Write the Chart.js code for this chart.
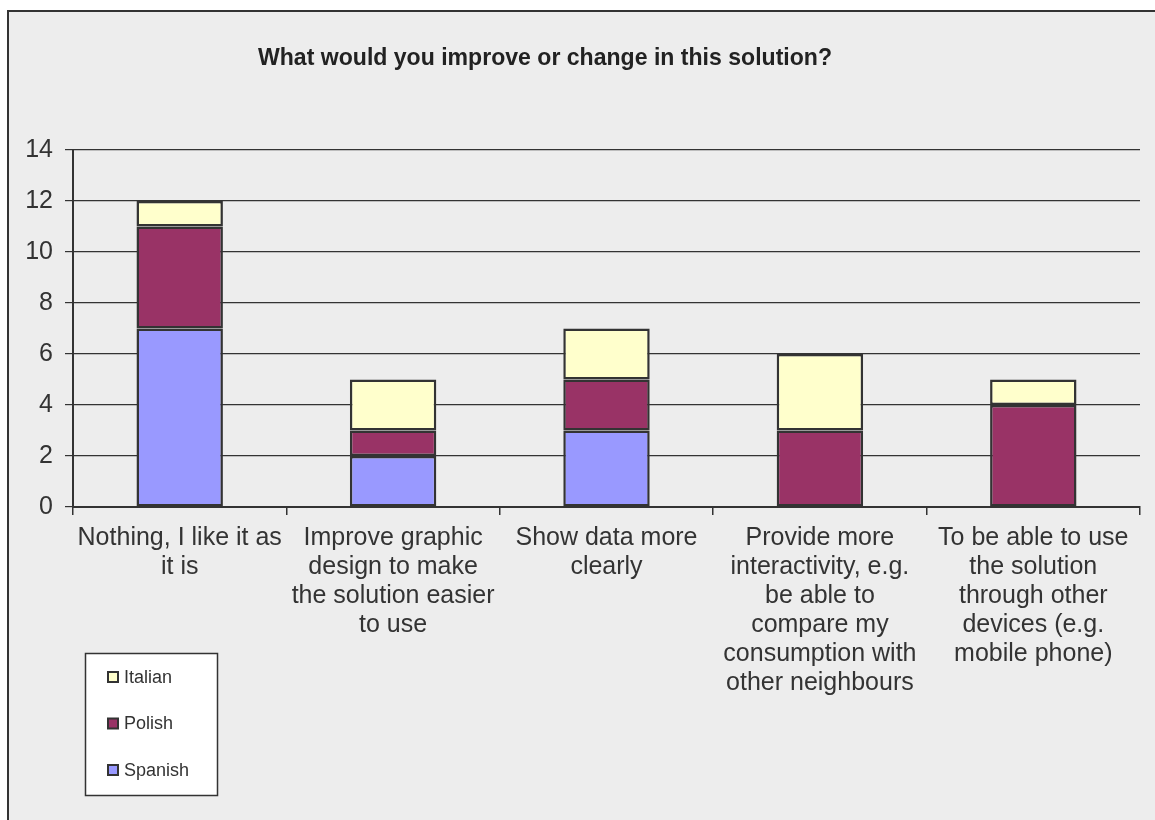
<!DOCTYPE html>
<html lang="en">
<head>
  <meta charset="UTF-8" />
  <title>Improvement survey</title>
  <script src="https://cdn.jsdelivr.net/npm/chart.js"></script>
  <style>
    *{margin:0;padding:0;box-sizing:border-box}
    body,html{width:1155px;height:820px;background:#fff;overflow:hidden}
    #wrap{width:1155px;height:820px;position:relative}
  </style>
</head>
<body>
  <div id="wrap"><canvas id="chart" width="1155" height="820"></canvas></div>
  <script>
    // answers per country
    const categories = [
      ['Nothing, I like it as', 'it is'],
      ['Improve graphic', 'design to make', 'the solution easier', 'to use'],
      ['Show data more', 'clearly'],
      ['Provide more', 'interactivity, e.g.', 'be able to', 'compare my', 'consumption with', 'other neighbours'],
      ['To be able to use', 'the solution', 'through other', 'devices (e.g.', 'mobile phone)']
    ];
    const spanish = [7, 2, 3, 0, 0];
    const polish  = [4, 1, 2, 3, 4];
    const italian = [1, 2, 2, 3, 1];
    const yTicks  = [0, 2, 4, 6, 8, 10, 12, 14];
    const titleText = 'What would you improve or change in this solution?';

    const ink = '#333';
    const font = '"Liberation Sans", Arial, sans-serif';

    // grey panel with a dark frame behind everything
    const panel = {
      id: 'panel',
      beforeDraw(chart) {
        const c = chart.ctx;
        c.save();
        c.fillStyle = '#ededed';
        c.fillRect(8, 11, 1160, 820);
        c.strokeStyle = ink;
        c.lineWidth = 2;
        c.strokeRect(8, 11, 1160, 820);
        c.restore();
      },
      afterDraw(chart) {
        const c = chart.ctx;
        c.save();
        // title
        c.fillStyle = '#222';
        c.font = 'bold 24px ' + font;
        c.textAlign = 'center';
        c.textBaseline = 'alphabetic';
        c.fillText(titleText, 545, 65, 574);

        // legend box, series listed top-down in reverse
        const bx = 85, by = 653, bw = 132, bh = 142;
        c.fillStyle = '#fff';
        c.fillRect(bx, by, bw, bh);
        c.strokeStyle = ink;
        c.lineWidth = 1.5;
        c.strokeRect(bx + 0.5, by + 0.5, bw, bh);
        const sets = chart.data.datasets.slice().reverse();
        c.font = '18px ' + font;
        c.textAlign = 'left';
        c.textBaseline = 'middle';
        sets.forEach((ds, i) => {
          const cy = 677 + i * 46.5;
          c.fillStyle = ds.backgroundColor;
          c.fillRect(108, cy - 5, 10, 10);
          c.strokeStyle = ink;
          c.lineWidth = 2;
          c.strokeRect(108, cy - 5, 10, 10);
          c.fillStyle = ink;
          c.fillText(ds.label, 124, cy + 1);
        });
        c.restore();
      }
    };

    const barStyle = { borderColor: ink, borderWidth: 2.5, borderSkipped: false,
      categoryPercentage: 1, barPercentage: 0.405 };

    new Chart(document.getElementById('chart'), {
      type: 'bar',
      data: {
        labels: categories,
        datasets: [
          Object.assign({ label: 'Spanish', data: spanish, backgroundColor: '#9999ff' }, barStyle),
          Object.assign({ label: 'Polish',  data: polish,  backgroundColor: '#993366' }, barStyle),
          Object.assign({ label: 'Italian', data: italian, backgroundColor: '#ffffcc' }, barStyle)
        ]
      },
      options: {
        responsive: false,
        animation: false,
        layout: { padding: { top: 150, right: 15, left: 0, bottom: 0 } },
        plugins: { legend: { display: false }, title: { display: false }, tooltip: { enabled: false } },
        scales: {
          x: {
            stacked: true,
            afterFit(s) { s.height = 313; },
            grid: { drawOnChartArea: false, offset: true, tickLength: 8, color: ink, lineWidth: 1.5 },
            border: { color: ink, width: 2 },
            ticks: { color: ink, maxRotation: 0, autoSkip: false, padding: 9,
              font: { family: font, size: 25, lineHeight: 1.16 } }
          },
          y: {
            stacked: true,
            min: 0, max: 14,
            afterFit(s) { s.width = 73; },
            afterBuildTicks(s) { s.ticks = yTicks.map(v => ({ value: v })); },
            grid: { color: ink, lineWidth: 1.2, tickLength: 8 },
            border: { color: ink, width: 2 },
            ticks: { color: ink, padding: 12, font: { family: font, size: 25 } }
          }
        }
      },
      plugins: [panel]
    });
  </script>
</body>
</html>
